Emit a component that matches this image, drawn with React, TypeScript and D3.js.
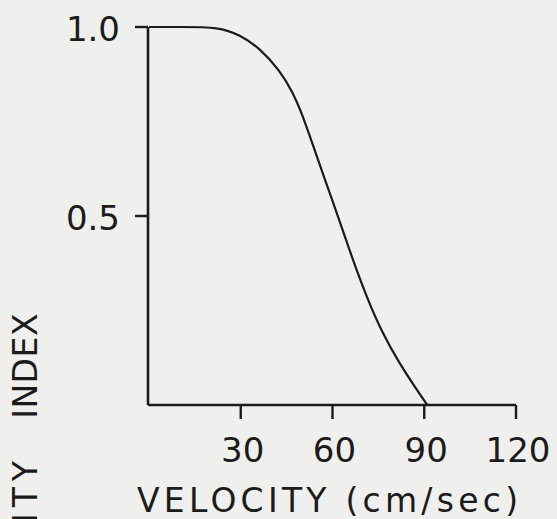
import React from 'react'
import * as d3 from 'd3'

// curve
const velocity = [0, 10, 23, 29.7, 36.2, 42.7, 47, 50.2, 53.5, 58, 61.3, 65.5, 71.1, 76.3, 81.8, 87.4, 91]
const index = [1, 1, 1, 0.979, 0.944, 0.886, 0.828, 0.767, 0.69, 0.585, 0.511, 0.41, 0.286, 0.19, 0.111, 0.042, 0]

const xTicks = [30, 60, 90, 120]
const yTicks = [0.5, 1.0]
const yTickLabels = ['0.5', '1.0']

const W = 557
const H = 519
const ink = '#1b1b1b'
const font = 'DejaVu Sans, sans-serif'

export default function App() {
  const x = d3.scaleLinear().domain([0, 120]).range([149, 516])
  const y = d3.scaleLinear().domain([0, 1]).range([405, 27])

  const pts = velocity.map((v, i) => [v, index[i]] as [number, number])
  const line = d3.line<[number, number]>()
    .x((d) => x(d[0]))
    .y((d) => y(d[1]))
    .curve(d3.curveBasis)

  const x0 = x(0) - 1
  const y0 = y(0)

  return (
    <svg width={W} height={H} style={{ position: 'absolute', left: 0, top: 0, background: '#efefed' }}>
      {/* axes */}
      <line x1={x0} y1={y(1)} x2={x0} y2={y0} stroke={ink} strokeWidth={2.6} />
      <line x1={x0} y1={y0} x2={x(120)} y2={y0} stroke={ink} strokeWidth={2.6} />

      {yTicks.map((t, i) => (
        <g key={t}>
          <line x1={x0 - 13} x2={x0} y1={y(t)} y2={y(t)} stroke={ink} strokeWidth={2.4} />
          <text x={120} y={y(t) + 14} textAnchor="end" fontFamily={font} fontSize={34} fill={ink}>
            {yTickLabels[i]}
          </text>
        </g>
      ))}

      {xTicks.map((t) => (
        <g key={t}>
          <line x1={x(t)} x2={x(t)} y1={y0} y2={y0 + 14} stroke={ink} strokeWidth={2.4} />
          <text x={x(t) + 2} y={462} textAnchor="middle" fontFamily={font} fontSize={34} fill={ink}>
            {t}
          </text>
        </g>
      ))}

      <path d={line(pts) || ''} fill="none" stroke={ink} strokeWidth={2.2} />

      <text x={137} y={512} fontFamily={font} fontSize={33} fill={ink}
        textLength={381} lengthAdjust="spacing">
        VELOCITY (cm/sec)
      </text>

      <text transform="translate(37,455) rotate(-90)" textAnchor="end" fontFamily={font}
        fontSize={33} fill={ink} letterSpacing={6}>
        SUITABILITY
      </text>
      <text transform="translate(37,313) rotate(-90)" textAnchor="end" fontFamily={font}
        fontSize={33} fill={ink} letterSpacing={0.5}>
        INDEX
      </text>
    </svg>
  )
}
